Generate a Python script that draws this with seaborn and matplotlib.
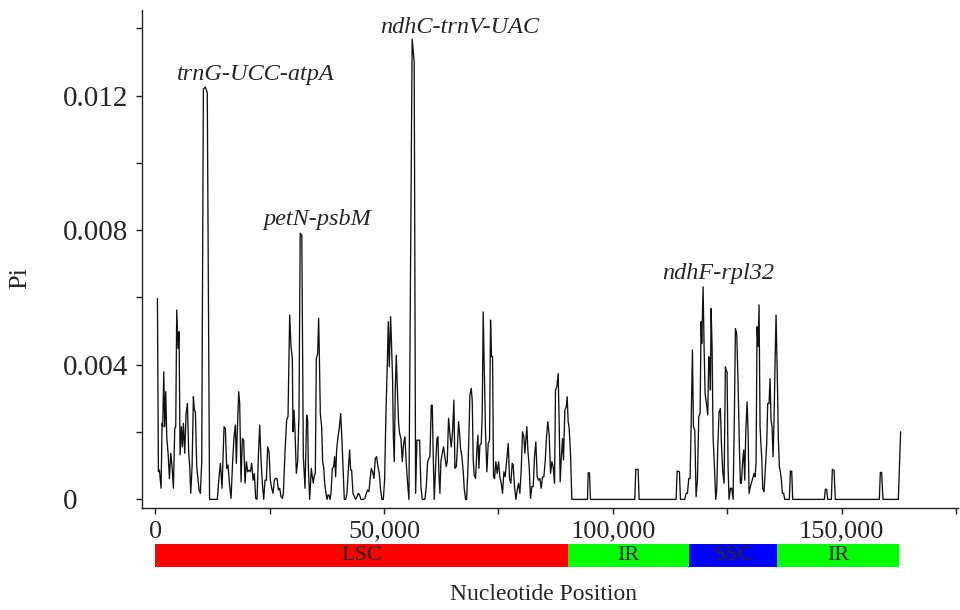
"""
Nucleotide diversity (Pi) along the plastome, sliding window plot.
Values read off the reference figure.
"""

import matplotlib
matplotlib.use('Agg')
import matplotlib.pyplot as plt
import matplotlib.ticker as mticker
import seaborn as sns

# ── Data ─────────────────────────────────────────────────────────────────────
position = [
    510, 728, 947, 1310, 1529, 1674, 1893, 2111, 2329, 2548, 2839, 3130, 3421,
    3712, 4003, 4294, 4512, 4731, 5022, 5240, 5458, 5749, 5968, 6186, 6477,
    6768, 7059, 7350, 7569, 7787, 8078, 8369, 8587, 8806, 9097, 9315, 9606,
    9897, 10188, 10550, 11000, 11400, 11900, 13600,
    13972, 14263, 14627, 15064, 15355, 15646, 15937, 16228, 16592, 16956,
    17247, 17538, 17756, 17975, 18266, 18484, 18775, 19066, 19357, 19648,
    19940, 20231, 20522, 20813, 21104, 21395, 21686, 21977, 22268, 22559,
    22850, 23141, 23432, 23724, 24015, 24306, 24597, 24888, 25179, 25470,
    25761, 26052, 26343, 26634, 26925, 27217, 27508, 27799, 28017, 28381,
    28745, 29036, 29400, 29691, 29982, 30127, 30346, 30564, 30855, 31144,
    31435, 31700, 32050, 32381, 32745, 33109, 33327, 33473, 33764, 34128,
    34346, 34564, 34783, 35001, 35219, 35510, 35729, 35874, 36093, 36384,
    36602, 36820, 37039, 37330, 37548, 37766, 37985, 38203, 38421, 38712,
    39003, 39222, 39440, 39658, 39949, 40240, 40531, 40823, 41041, 41332,
    41623, 41914, 42205, 42496, 42715, 42933, 43224, 43515, 43806, 44097,
    44388, 44679, 44970, 45553, 45844, 46135, 46426, 46717, 47008, 47226,
    47517, 47808, 48100, 48391, 48682, 48973, 49264, 49555, 49846, 50137,
    50428, 50719, 50938, 51156, 51447, 51665, 51884, 52029, 52247, 52466,
    52684, 52902, 53193, 53412, 53703, 53994, 54285, 54576, 54867, 55158,
    55449, 56150, 56600, 56905, 57196, 57487, 57778, 58069, 58360, 58942,
    59233, 59524, 59816, 60034, 60325, 60543, 60762, 60980, 61271, 61562,
    61780, 61999, 62217, 62433, 62724, 63015, 63307, 63598, 63816, 64107,
    64398, 64689, 64980, 65271, 65490, 65781, 65999, 66290, 66508, 66727,
    67018, 67309, 67527, 67818, 68037, 68328, 68546, 68764, 69055, 69274,
    69492, 69710, 70001, 70292, 70511, 70729, 70947, 71238, 71457, 71675,
    71893, 72184, 72476, 72767, 73058, 73276, 73494, 73713, 73931, 74149,
    74440, 74731, 75023, 75314, 75605, 75896, 76187, 76478, 76769, 77133,
    77424, 77715, 78006, 78224, 78515, 78807, 79098, 79389, 79680, 79971,
    80262, 80553, 80771, 80990, 81208, 81426, 81717, 82008, 82300, 82591,
    82882, 83173, 83464, 83755, 84046, 84337, 84628, 84919, 85210, 85501,
    85792, 86084, 86375, 86666, 86957, 87248, 87466, 87757, 88048, 88267,
    88485, 88703, 88994, 89213, 89504, 89795, 90013, 90231, 90450, 90741,
    91032, 94451, 94597, 94888, 95106, 104785, 105003, 105512, 105731,
    113808, 114026, 114536, 114754, 115700, 115991, 116282, 116573, 116864,
    117083, 117374, 117592, 117883, 118174, 118465, 118756, 119047, 119266,
    119411, 119702, 119921, 120139, 120430, 120721, 120939, 121158, 121303,
    121449, 121667, 121885, 122177, 122468, 122686, 122904, 123195, 123486,
    123705, 123996, 124287, 124578, 124723, 124942, 125160, 125378, 125669,
    125961, 126252, 126543, 126761, 127052, 127343, 127634, 127853, 128071,
    128362, 128580, 128799, 129016, 129307, 129525, 129744, 130035, 130326,
    130617, 130835, 131053, 131272, 131490, 131708, 131927, 132145, 132363,
    132509, 132727, 133018, 133309, 133600, 133819, 134110, 134328, 134546,
    134765, 134983, 135201, 135420, 135638, 135929, 136147, 136366, 136584,
    136802, 137021, 137312, 137530, 138549, 138767, 139058, 139276, 146190,
    146408, 146699, 146917, 147718, 147936, 148300, 148591, 158197, 158415,
    158706, 158997, 162345, 162854,
]

pi = [
    0.00597, 0.00082, 0.00087, 0.00033, 0.00226, 0.00216, 0.00379, 0.00216,
    0.00320, 0.00186, 0.00137, 0.00062, 0.00137, 0.00097, 0.00033, 0.00211,
    0.00216, 0.00563, 0.00449, 0.00498, 0.00132, 0.00216, 0.00156, 0.00226,
    0.00137, 0.00255, 0.00285, 0.00137, 0.00097, 0.00018, 0.00097, 0.00305,
    0.00265, 0.00260, 0.00097, 0.00067, 0.00028, 0.00018, 0.00112, 0.01220,
    0.01225, 0.01208, 0.0, 0.0,
    0.00067, 0.00107, 0.00033, 0.00216, 0.00211, 0.00092, 0.00102, 0.00048,
    0.00003, 0.00117, 0.00186, 0.00221, 0.00107, 0.00206, 0.00320, 0.00285,
    0.00052, 0.00181, 0.00176, 0.00048, 0.00112, 0.00082, 0.00087, 0.00082,
    0.00107, 0.00057, 0.00077, 0.00003, 0.0, 0.00127, 0.00221, 0.00117,
    0.00048, 0.0, 0.00057, 0.00057, 0.00156, 0.00142, 0.00057, 0.00033,
    0.00018, 0.00057, 0.00062, 0.00062, 0.00028, 0.00033, 0.00008, 0.00003,
    0.00018, 0.00142, 0.00236, 0.00246, 0.00548, 0.00454, 0.00419, 0.00201,
    0.00265, 0.00201, 0.00077, 0.00112, 0.00255, 0.00791, 0.00785, 0.00127,
    0.00033, 0.00250, 0.00236, 0.00097, 0.0, 0.00092, 0.00067, 0.00048,
    0.00072, 0.00077, 0.00419, 0.00434, 0.00538, 0.00434, 0.00255, 0.00216,
    0.00112, 0.00097, 0.00048, 0.00018, 0.0, 0.00013, 0.00013, 0.0,
    0.00018, 0.00092, 0.00097, 0.00127, 0.00067, 0.00147, 0.00186, 0.00211,
    0.00255, 0.00176, 0.00097, 0.0, 0.0, 0.00018, 0.00087, 0.00147,
    0.00087, 0.00087, 0.00018, 0.00008, 0.0, 0.00008, 0.00018, 0.00013,
    0.0, 0.0, 0.00003, 0.00018, 0.00028, 0.00023, 0.00067, 0.00092,
    0.00082, 0.00062, 0.00122, 0.00127, 0.00097, 0.00077, 0.00028, 0.0,
    0.0, 0.00057, 0.00255, 0.00399, 0.00528, 0.00394, 0.00543, 0.00454,
    0.00354, 0.00196, 0.00112, 0.00325, 0.00429, 0.00335, 0.00226, 0.00196,
    0.00181, 0.00112, 0.00166, 0.00186, 0.00107, 0.00048, 0.0, 0.01368,
    0.01300, 0.00018, 0.00176, 0.00176, 0.00176, 0.00038, 0.0, 0.0,
    0.00038, 0.00112, 0.00122, 0.00127, 0.00280, 0.00280, 0.00127, 0.0,
    0.00097, 0.00181, 0.00186, 0.00077, 0.00018, 0.00112, 0.00137, 0.00156,
    0.00127, 0.00097, 0.00112, 0.00241, 0.00196, 0.00156, 0.00201, 0.00295,
    0.00092, 0.00097, 0.00142, 0.00231, 0.00196, 0.00152, 0.00127, 0.00082,
    0.00033, 0.0, 0.0, 0.00087, 0.00186, 0.00310, 0.00330, 0.00295,
    0.00117, 0.00072, 0.00062, 0.00147, 0.00191, 0.00092, 0.00161, 0.00166,
    0.00255, 0.00557, 0.00394, 0.00196, 0.00082, 0.00166, 0.00176, 0.00533,
    0.00424, 0.00424, 0.00067, 0.00062, 0.00112, 0.00077, 0.00112, 0.00067,
    0.00048, 0.00018, 0.00082, 0.00067, 0.00112, 0.00166, 0.00062, 0.00048,
    0.00107, 0.00102, 0.00038, 0.0, 0.00028, 0.00048, 0.00018, 0.00087,
    0.00201, 0.00186, 0.00137, 0.00176, 0.00216, 0.00147, 0.00097, 0.00003,
    0.00038, 0.00038, 0.00127, 0.00171, 0.00067, 0.00057, 0.00062, 0.00033,
    0.00067, 0.00067, 0.00112, 0.00186, 0.00231, 0.00191, 0.00077, 0.00112,
    0.00097, 0.00048, 0.00325, 0.00335, 0.00374, 0.00226, 0.00052, 0.00117,
    0.00181, 0.00117, 0.00265, 0.00275, 0.00305, 0.00231, 0.00211, 0.00137,
    0.0, 0.0, 0.00079, 0.00079, 0.0, 0.0, 0.00089, 0.00089, 0.0,
    0.0, 0.00084, 0.00082, 0.0, 0.0, 0.00018, 0.00018, 0.00062, 0.00062,
    0.00216, 0.00444, 0.00216, 0.00206, 0.00008, 0.00057, 0.00246, 0.00255,
    0.00528, 0.00463, 0.00632, 0.00454, 0.00315, 0.00285, 0.00251, 0.00424,
    0.00404, 0.00325, 0.00567, 0.00454, 0.00186, 0.00097, 0.0, 0.00028,
    0.00156, 0.00260, 0.00270, 0.00166, 0.00082, 0.00048, 0.00394, 0.00384,
    0.00379, 0.00097, 0.0, 0.00033, 0.00033, 0.0, 0.00255, 0.00508,
    0.00493, 0.00345, 0.00156, 0.00048, 0.00048, 0.00117, 0.00147, 0.00057,
    0.00196, 0.00290, 0.00206, 0.00018, 0.00038, 0.00052, 0.00067, 0.00077,
    0.00067, 0.00107, 0.00513, 0.00454, 0.00578, 0.00216, 0.00156, 0.00127,
    0.00033, 0.00023, 0.00097, 0.00166, 0.00285, 0.00285, 0.00359, 0.00236,
    0.00216, 0.00127, 0.00236, 0.00404, 0.00548, 0.00354, 0.00176, 0.00097,
    0.00082, 0.00057, 0.00018, 0.00018, 0.0, 0.0, 0.00084, 0.00084, 0.0,
    0.0, 0.00030, 0.00030, 0.0, 0.0, 0.00089, 0.00087, 0.0, 0.0,
    0.00080, 0.00080, 0.0, 0.0, 0.00201,
]

# Genome regions (bar under the axis)
regions = ['LSC', 'IR', 'SSC', 'IR']
region_start = [0, 90200, 116600, 135900]
region_end = [90200, 116600, 135900, 162500]
region_colors = ['#ff0000', '#00ff00', '#0000ff', '#00ff00']

# Hotspot labels
hotspots = ['trnG-UCC-atpA', 'petN-psbM', 'ndhC-trnV-UAC', 'ndhF-rpl32']
hotspot_x = [22050, 35500, 66600, 122900]
hotspot_y = [0.01262, 0.00832, 0.01402, 0.00670]

XLIM = (-2840, 175400)
YLIM = (-0.00026, 0.01455)

# ── Style ────────────────────────────────────────────────────────────────────
sns.set_style('ticks')
plt.rcParams['font.family'] = ['Liberation Serif', 'DejaVu Serif']
FS_YTICK = 21
FS_XTICK = 19
FS = 17.5

fig = plt.figure(figsize=(9.6, 6.1), dpi=100)
ax = fig.add_axes([0.148, 0.167, 0.850, 0.817])

sns.lineplot(x=position, y=pi, ax=ax, color='#111111', linewidth=0.95,
             estimator=None, sort=False)

ax.set_xlim(*XLIM)
ax.set_ylim(*YLIM)
sns.despine(ax=ax)
for s in ('left', 'bottom'):
    ax.spines[s].set_linewidth(1.0)
    ax.spines[s].set_color('#222222')

ax.xaxis.set_major_locator(mticker.MultipleLocator(50000))
ax.xaxis.set_minor_locator(mticker.MultipleLocator(25000))
ax.xaxis.set_major_formatter(mticker.FuncFormatter(lambda v, _: f'{int(round(v)):,}'))
ax.yaxis.set_major_locator(mticker.MultipleLocator(0.004))
ax.yaxis.set_minor_locator(mticker.MultipleLocator(0.002))
ax.yaxis.set_major_formatter(mticker.FuncFormatter(
    lambda v, _: '0' if abs(v) < 1e-9 else f'{v:.3f}'))

ax.tick_params(which='both', direction='out', length=4, width=1.0, color='#222222')
ax.tick_params(axis='x', labelsize=FS_XTICK, pad=5)
ax.tick_params(axis='y', labelsize=FS_YTICK, pad=53)
for lbl in ax.get_yticklabels():
    lbl.set_horizontalalignment('left')

ax.set_xlabel('')
ax.set_ylabel('')

for name, hx, hy in zip(hotspots, hotspot_x, hotspot_y):
    ax.text(hx, hy, name, style='italic', fontsize=FS, ha='center', va='center')

# ── Region bar ───────────────────────────────────────────────────────────────
ax2 = fig.add_axes([0.148, 1 - 567 / 610, 0.850, 23 / 610])
widths = [e - s for s, e in zip(region_start, region_end)]
ax2.barh(y=0, width=widths, left=region_start, height=1.0,
         color=region_colors, edgecolor='none', linewidth=0)
for name, s, e in zip(regions, region_start, region_end):
    ax2.text((s + e) / 2, 0, name, ha='center', va='center', fontsize=16)
ax2.set_xlim(*XLIM)
ax2.set_ylim(-0.5, 0.5)
ax2.axis('off')

fig.text(20 / 960, 1 - 278 / 610, 'Pi', rotation=90, ha='center', va='center', fontsize=19)
fig.text(543 / 960, 1 - 595 / 610, 'Nucleotide Position', ha='center', va='center', fontsize=17)

fig.savefig('out.png', dpi=100)
plt.close(fig)
